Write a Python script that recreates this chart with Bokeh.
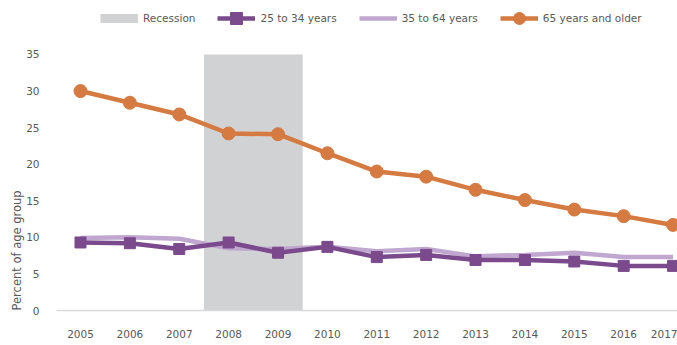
from bokeh.plotting import figure
from bokeh.models import (Range1d, FixedTicker, Legend, LegendItem, Title)
from bokeh.embed import file_html
from bokeh.resources import INLINE

years = [2005, 2006, 2007, 2008, 2009, 2010, 2011, 2012, 2013, 2014, 2015, 2016, 2017]
age_25_34 = [9.3, 9.2, 8.4, 9.3, 7.9, 8.7, 7.3, 7.6, 6.9, 6.9, 6.7, 6.1, 6.1]
age_35_64 = [9.9, 10.0, 9.8, 8.5, 8.4, 8.7, 8.1, 8.4, 7.4, 7.6, 7.9, 7.3, 7.3]
age_65_plus = [30.0, 28.4, 26.8, 24.2, 24.1, 21.5, 19.0, 18.3, 16.5, 15.1, 13.8, 12.9, 11.7]
recession_start = [2007.5]
recession_end = [2009.5]
recession_top = [35]
y_ticks = [0, 5, 10, 15, 20, 25, 30, 35]

FONT = "DejaVu Sans"
TXT = "#595959"
ORANGE = "#D57A40"
PURPLE = "#7B4A8C"
LPURPLE = "#BFA7CF"
GRAY = "#D1D2D4"

# frame reaches the top of the canvas so the legend (drawn in the frame) is not clipped
p = figure(width=677, height=345, output_backend="svg", toolbar_location=None, title=None,
           x_range=Range1d(2004.514, 2017.09), y_range=Range1d(0, 42.38),
           min_border_left=56, min_border_right=0, min_border_bottom=35, min_border_top=0)
p.outline_line_color = None
p.grid.visible = False
p.background_fill_color = "white"
p.border_fill_color = "white"

rec = p.quad(left=recession_start, right=recession_end, bottom=[0], top=recession_top,
             fill_color=GRAY, line_color=None)
# legend swatch for recession (thick line drawn off-range looks like a rect in the legend)
rec_leg = p.line(x=[2006, 2006.1], y=[-10, -10], line_color=GRAY, line_width=9)

l35 = p.line(years, age_35_64, line_color=LPURPLE, line_width=4.5)
l25 = p.line(years, age_25_34, line_color=PURPLE, line_width=4.5)
s25 = p.scatter(years, age_25_34, marker="square", size=11, fill_color=PURPLE, line_color=PURPLE)
l65 = p.line(years, age_65_plus, line_color=ORANGE, line_width=4.5)
c65 = p.scatter(years, age_65_plus, marker="circle", size=13, fill_color=ORANGE, line_color=ORANGE)

p.xaxis.ticker = FixedTicker(ticks=years)
p.yaxis.ticker = FixedTicker(ticks=y_ticks)
for ax in (p.xaxis, p.yaxis):
    ax.major_tick_line_color = None
    ax.minor_tick_line_color = None
    ax.major_label_text_font = FONT
    ax.major_label_text_font_size = "10.5px"
    ax.major_label_text_color = TXT
p.yaxis.axis_line_color = None
p.yaxis.major_label_standoff = 11
p.xaxis.axis_line_color = "#D9D9D9"
p.xaxis.axis_line_width = 1.5
p.xaxis.major_label_standoff = 13

ytitle = Title(text="Percent of age group", align="left", text_font=FONT,
               text_font_size="11.5px", text_font_style="normal", text_color=TXT,
               standoff=0, offset=0)
p.add_layout(ytitle, "left")

legend = Legend(items=[
    LegendItem(label="Recession", renderers=[rec_leg]),
    LegendItem(label="25 to 34 years", renderers=[l25, s25]),
    LegendItem(label="35 to 64 years", renderers=[l35]),
    LegendItem(label="65 years and older", renderers=[l65, c65]),
], orientation="horizontal", location=(44, 277))
legend.glyph_width = 38
legend.glyph_height = 30
legend.label_standoff = 5
legend.spacing = 22
legend.padding = 0
legend.margin = 0
legend.border_line_color = None
legend.background_fill_alpha = 0
legend.label_text_font = FONT
legend.label_text_font_size = "10.5px"
legend.label_text_color = TXT
p.add_layout(legend)

open("out.html", "w").write(file_html(p, INLINE))
